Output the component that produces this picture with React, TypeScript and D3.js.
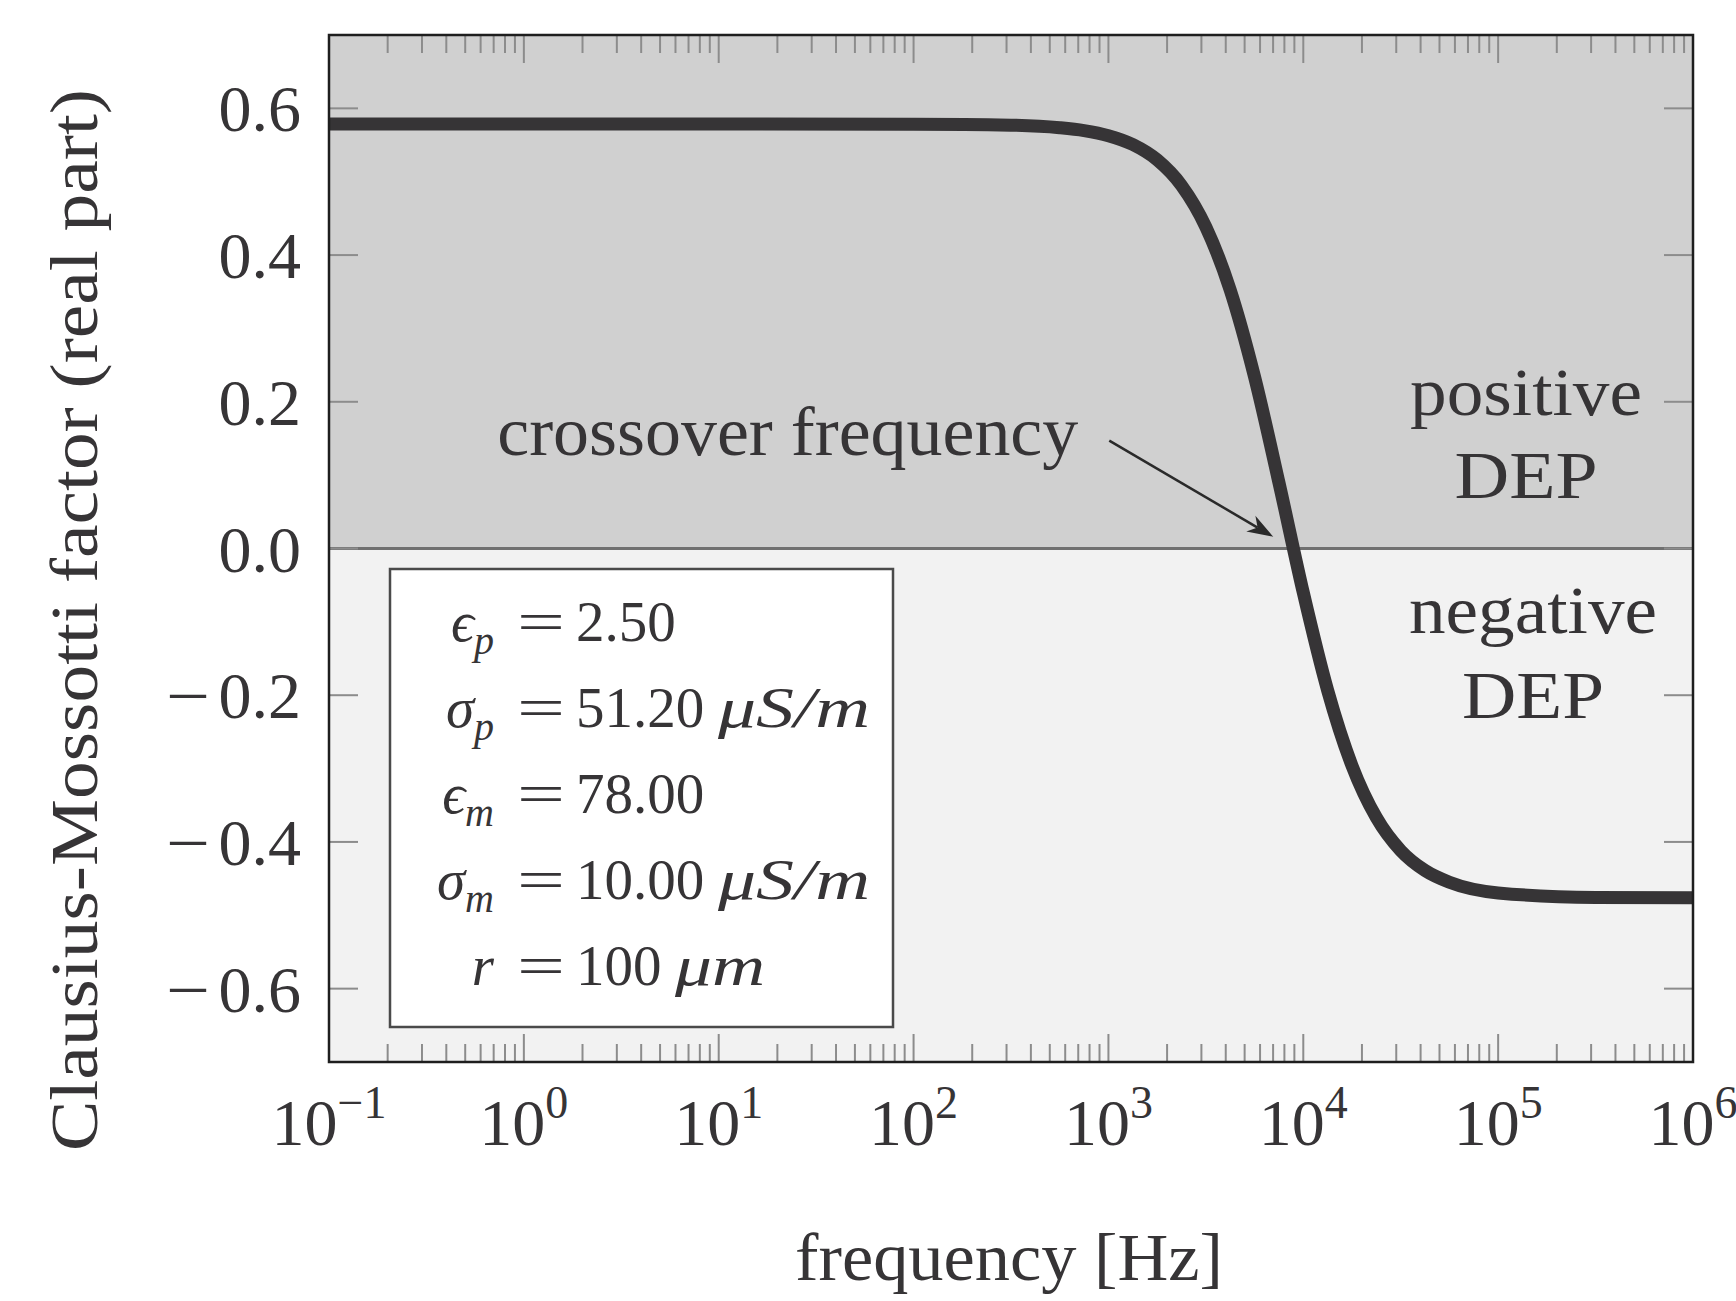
import React from "react";
import * as d3 from "d3";

// ---- data ----
const freqHz = [0.1, 1, 10, 100, 316, 562, 750, 1000, 1334, 1778, 2371, 3162, 4217, 5623, 7499, 10000, 13335, 17783, 23714, 31623, 42170, 56234, 100000, 316228, 1000000];
const cmReal = [0.5787, 0.5787, 0.5787, 0.5785, 0.5771, 0.5736, 0.5697, 0.5628, 0.5507, 0.5299, 0.4949, 0.4383, 0.3525, 0.234, 0.09, -0.0601, -0.1934, -0.2961, -0.3668, -0.4118, -0.439, -0.455, -0.4695, -0.4756, -0.4762];
const xMajorExp = [-1, 0, 1, 2, 3, 4, 5, 6];
const yTicks = [-0.6, -0.4, -0.2, 0.0, 0.2, 0.4, 0.6];
const legendLeft = [
  { sym: "ϵ", sub: "p" },
  { sym: "σ", sub: "p" },
  { sym: "ϵ", sub: "m" },
  { sym: "σ", sub: "m" },
  { sym: "r", sub: "" },
];
const legendValue = ["2.50", "51.20", "78.00", "10.00", "100"];
const legendUnit = ["", "μS/m", "", "μS/m", "μm"];

const W = 1736, H = 1301;
const L = 329, R = 1693, T = 35, B = 1062;
const FONT = "'Liberation Serif', 'Times New Roman', serif";
const TXT = "#363436";

export default function App() {
  const x = d3.scaleLog().domain([0.1, 1e6]).range([L, R]);
  const y = d3.scaleLinear().domain([-0.7, 0.7]).range([B, T]);
  const pts = freqHz.map((f, i) => [f, cmReal[i]] as [number, number]);
  const line = d3.line<[number, number]>().x(d => x(d[0])).y(d => y(d[1])).curve(d3.curveMonotoneX);

  const minor: number[] = [];
  for (let e = -1; e < 6; e++) for (let k = 2; k <= 9; k++) minor.push(k * Math.pow(10, e));

  // arrow annotation in data coords
  const a0 = [x(1010), y(0.147)];
  const a1 = [x(7015), y(0.016)];
  const ang = Math.atan2(a1[1] - a0[1], a1[0] - a0[0]);
  const hl = 26, hw = 9;
  const ux = Math.cos(ang), uy = Math.sin(ang);
  const back = [a1[0] - ux * hl, a1[1] - uy * hl];
  const inner = [a1[0] - ux * hl * 0.7, a1[1] - uy * hl * 0.7];
  const head = `M${a1[0]},${a1[1]} L${back[0] - uy * hw},${back[1] + ux * hw} L${inner[0]},${inner[1]} L${back[0] + uy * hw},${back[1] - ux * hw} Z`;

  const rowBase = [641, 727, 813, 899, 985];
  const unitLen: Record<string, number> = { "μS/m": 152, "μm": 90 };

  return (
    <svg width={W} height={H} style={{ position: "absolute", left: 0, top: 0, background: "#fff" }} fontFamily={FONT}>
      {/* backgrounds */}
      <rect x={L} y={T} width={R - L} height={y(0) - T} fill="#d0d0d0" />
      <rect x={L} y={y(0)} width={R - L} height={B - y(0)} fill="#f2f2f2" />
      <line x1={L} x2={R} y1={y(0)} y2={y(0)} stroke="#707070" strokeWidth={3} />

      {/* ticks */}
      {minor.map((f, i) => (
        <g key={"m" + i} stroke="#8c8c8c" strokeWidth={2}>
          <line x1={x(f)} x2={x(f)} y1={T} y2={T + 18} />
          <line x1={x(f)} x2={x(f)} y1={B} y2={B - 18} />
        </g>
      ))}
      {xMajorExp.map(e => (
        <g key={"M" + e} stroke="#8c8c8c" strokeWidth={2}>
          <line x1={x(Math.pow(10, e))} x2={x(Math.pow(10, e))} y1={T} y2={T + 28} />
          <line x1={x(Math.pow(10, e))} x2={x(Math.pow(10, e))} y1={B} y2={B - 28} />
        </g>
      ))}
      {yTicks.map(v => (
        <g key={"y" + v} stroke="#8c8c8c" strokeWidth={2}>
          <line x1={L} x2={L + 29} y1={y(v)} y2={y(v)} />
          <line x1={R} x2={R - 29} y1={y(v)} y2={y(v)} />
        </g>
      ))}

      {/* legend box */}
      <rect x={390} y={569} width={503} height={458} fill="#fff" stroke="#4a4a4a" strokeWidth={2.5} />
      {legendLeft.map((d, i) => (
        <g key={"lg" + i} fill={TXT} fontSize={57}>
          <text x={494} y={rowBase[i]} textAnchor="end" fontStyle="italic">
            {d.sym}
            {d.sub && <tspan fontSize={40} dy={13}>{d.sub}</tspan>}
          </text>
          <text x={517} y={rowBase[i]} textLength={48} lengthAdjust="spacingAndGlyphs">=</text>
          <text x={576} y={rowBase[i]}>{legendValue[i]}</text>
          {legendUnit[i] && (
            <text x={576 + (legendValue[i].length === 5 ? 142 : 99)} y={rowBase[i]} fontStyle="italic"
              textLength={unitLen[legendUnit[i]]} lengthAdjust="spacingAndGlyphs">{legendUnit[i]}</text>
          )}
        </g>
      ))}

      {/* curve */}
      <path d={line(pts) || ""} fill="none" stroke="#363436" strokeWidth={13} />

      {/* frame */}
      <rect x={L} y={T} width={R - L} height={B - T} fill="none" stroke="#1e1e1e" strokeWidth={2.5} />

      {/* y tick labels */}
      {yTicks.map(v => (
        <g key={"yl" + v} fontSize={66} fill={TXT}>
          <text x={301} y={y(v) + 23} textAnchor="end">{Math.abs(v).toFixed(1)}</text>
          {v < 0 && <text x={166} y={y(v) + 23} textLength={44} lengthAdjust="spacingAndGlyphs">−</text>}
        </g>
      ))}
      {/* x tick labels */}
      {xMajorExp.map(e => (
        <text key={"xl" + e} x={x(Math.pow(10, e))} y={1145} textAnchor="middle" fontSize={66} fill={TXT}>
          10<tspan fontSize={46} dy={-27}>{e < 0 ? "−" + Math.abs(e) : String(e)}</tspan>
        </text>
      ))}

      {/* axis labels */}
      <text x={1009} y={1280} textAnchor="middle" fontSize={68} fill={TXT} textLength={428} lengthAdjust="spacingAndGlyphs">frequency [Hz]</text>
      <text transform="translate(97,620) rotate(-90)" textAnchor="middle" fontSize={68} fill={TXT}
        textLength={1062} lengthAdjust="spacingAndGlyphs">
        Clausius-Mossotti factor (real part)
      </text>

      {/* annotations */}
      <text x={x(700)} y={y(0.127)} textAnchor="end" fontSize={70} fill={TXT} textLength={581} lengthAdjust="spacingAndGlyphs">crossover frequency</text>
      <line x1={a0[0]} y1={a0[1]} x2={inner[0]} y2={inner[1]} stroke="#2a2a2a" strokeWidth={2.5} />
      <path d={head} fill="#2a2a2a" />
      <text x={1526} y={415} textAnchor="middle" fontSize={68} fill={TXT} textLength={232} lengthAdjust="spacingAndGlyphs">positive</text>
      <text x={1526} y={498} textAnchor="middle" fontSize={68} fill={TXT} textLength={143} lengthAdjust="spacingAndGlyphs">DEP</text>
      <text x={1533} y={633} textAnchor="middle" fontSize={68} fill={TXT} textLength={248} lengthAdjust="spacingAndGlyphs">negative</text>
      <text x={1533} y={718} textAnchor="middle" fontSize={68} fill={TXT} textLength={142} lengthAdjust="spacingAndGlyphs">DEP</text>
    </svg>
  );
}
